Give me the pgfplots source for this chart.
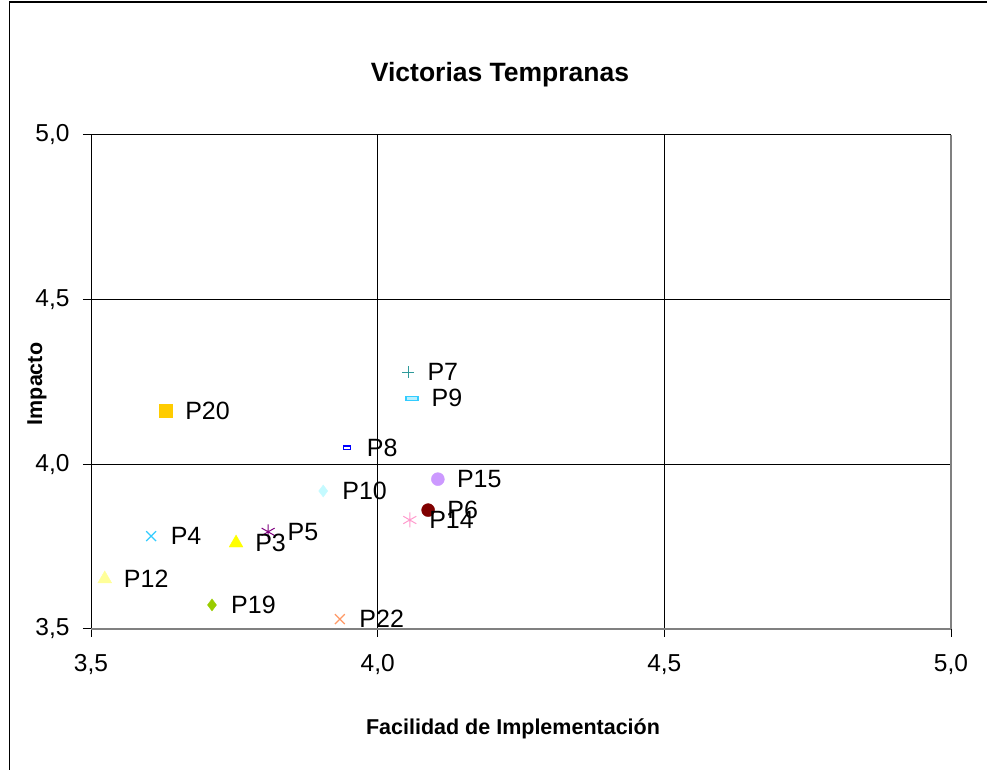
\documentclass[border=0pt]{standalone}
\usepackage{pgfplots}
\pgfplotsset{compat=1.18}
\usepackage{fontspec}
\setmainfont{Liberation Sans}
\definecolor{cP7}{HTML}{2E9A9A}
\definecolor{cP9}{HTML}{33CCFF}
\definecolor{cP9f}{HTML}{B8F0FF}
\definecolor{cP8}{HTML}{0000FF}
\definecolor{cP20}{HTML}{FFCC00}
\definecolor{cP15}{HTML}{CC99FF}
\definecolor{cP10}{HTML}{C4FAFF}
\definecolor{cP6}{HTML}{800000}
\definecolor{cP14}{HTML}{FF99CC}
\definecolor{cP5}{HTML}{800080}
\definecolor{cP4}{HTML}{33CCFF}
\definecolor{cP3}{HTML}{FFFF00}
\definecolor{cP12}{HTML}{FFFF99}
\definecolor{cP19}{HTML}{99CC00}
\definecolor{cP22}{HTML}{FF9966}
\definecolor{axgray}{HTML}{808080}
\begin{document}
\begin{tikzpicture}
\useasboundingbox (0pt,0pt) rectangle (987pt,770pt);
\draw[line width=1.2pt] (9.5pt,0pt) -- (9.5pt,768pt) -- (987pt,768pt);
\node[font=\bfseries\fontsize{26.5}{31}\selectfont] at (500pt,695pt) {Victorias Tempranas};
\node[font=\bfseries\fontsize{21.5}{26}\selectfont] at (513pt,41pt) {Facilidad de Implementación};
\node[font=\bfseries\fontsize{21.5}{26}\selectfont, rotate=90] at (37pt,386pt) {Impacto};
\begin{axis}[
  at={(91pt,141pt)}, anchor=south west,
  scale only axis, width=860pt, height=494pt,
  xmin=3.5, xmax=5, ymin=3.5, ymax=5,
  xtick={3.5,4,4.5,5}, ytick={3.5,4,4.5,5},
  xticklabels={{3,5},{4,0},{4,5},{5,0}},
  yticklabels={{3,5},{4,0},{4,5},{5,0}},
  grid=major, major grid style={black, line width=1pt},
  axis line style={draw=none},
  tick pos=left, tick align=outside, major tick length=8pt,
  tick style={black, line width=1pt},
  ticklabel style={font=\fontsize{24.5}{28}\selectfont},
  xticklabel style={yshift=-14pt},
  yticklabel style={xshift=-10pt},
  clip=false,
  every node near coord/.style={anchor=west, inner sep=0pt, xshift=19pt, yshift=0pt, font=\fontsize{25}{29}\selectfont, text=black},
]
\draw[axgray, line width=1.3pt] (axis cs:3.5,3.5) -- (axis cs:5,3.5);
\draw[axgray, line width=1.3pt] (axis cs:5,3.5) -- (axis cs:5,5);
\addplot[only marks, mark=+, mark size=6, cP7, line width=1pt, nodes near coords={P7}] coordinates {(4.053,4.280)};
\addplot[only marks, mark=square*, mark size=6, mark options={yscale=0.33, draw=cP9, fill=cP9f, line width=1.2pt}, nodes near coords={P9}] coordinates {(4.060,4.201)};
\addplot[only marks, mark=square*, mark size=6.5, mark options={draw=cP20, fill=cP20}, nodes near coords={P20}] coordinates {(3.631,4.162)};
\addplot[only marks, mark=square, mark size=3.5, mark options={yscale=0.5, draw=cP8, line width=1.3pt}, nodes near coords={P8}] coordinates {(3.947,4.050)};
\addplot[only marks, mark=*, mark size=6.5, mark options={draw=cP15, fill=cP15}, nodes near coords={P15}] coordinates {(4.105,3.955)};
\addplot[only marks, mark=diamond*, mark size=6, mark options={draw=cP10, fill=cP10}, nodes near coords={P10}] coordinates {(3.905,3.919)};
\addplot[only marks, mark=*, mark size=6.5, mark options={draw=cP6, fill=cP6}, nodes near coords={P6}] coordinates {(4.088,3.861)};
\addplot[only marks, mark=asterisk, mark size=7.5, mark options={draw=cP14, line width=1pt}, nodes near coords={P14}] coordinates {(4.056,3.831)};
\addplot[only marks, mark=asterisk, mark size=7.5, mark options={draw=cP5, line width=1pt}, nodes near coords={P5}] coordinates {(3.809,3.795)};
\addplot[only marks, mark=x, mark size=7, mark options={draw=cP4, line width=1.2pt}, nodes near coords={P4}] coordinates {(3.605,3.782)};
\addplot[only marks, mark=triangle*, mark size=8, mark options={draw=cP3, fill=cP3}, nodes near coords={P3}] coordinates {(3.753,3.761)};
\addplot[only marks, mark=triangle*, mark size=8, mark options={draw=cP12, fill=cP12}, nodes near coords={P12}] coordinates {(3.524,3.652)};
\addplot[only marks, mark=diamond*, mark size=6, mark options={draw=cP19, fill=cP19}, nodes near coords={P19}] coordinates {(3.711,3.573)};
\addplot[only marks, mark=x, mark size=7, mark options={draw=cP22, line width=1.2pt}, nodes near coords={P22}] coordinates {(3.934,3.530)};
\end{axis}
\end{tikzpicture}
\end{document}
